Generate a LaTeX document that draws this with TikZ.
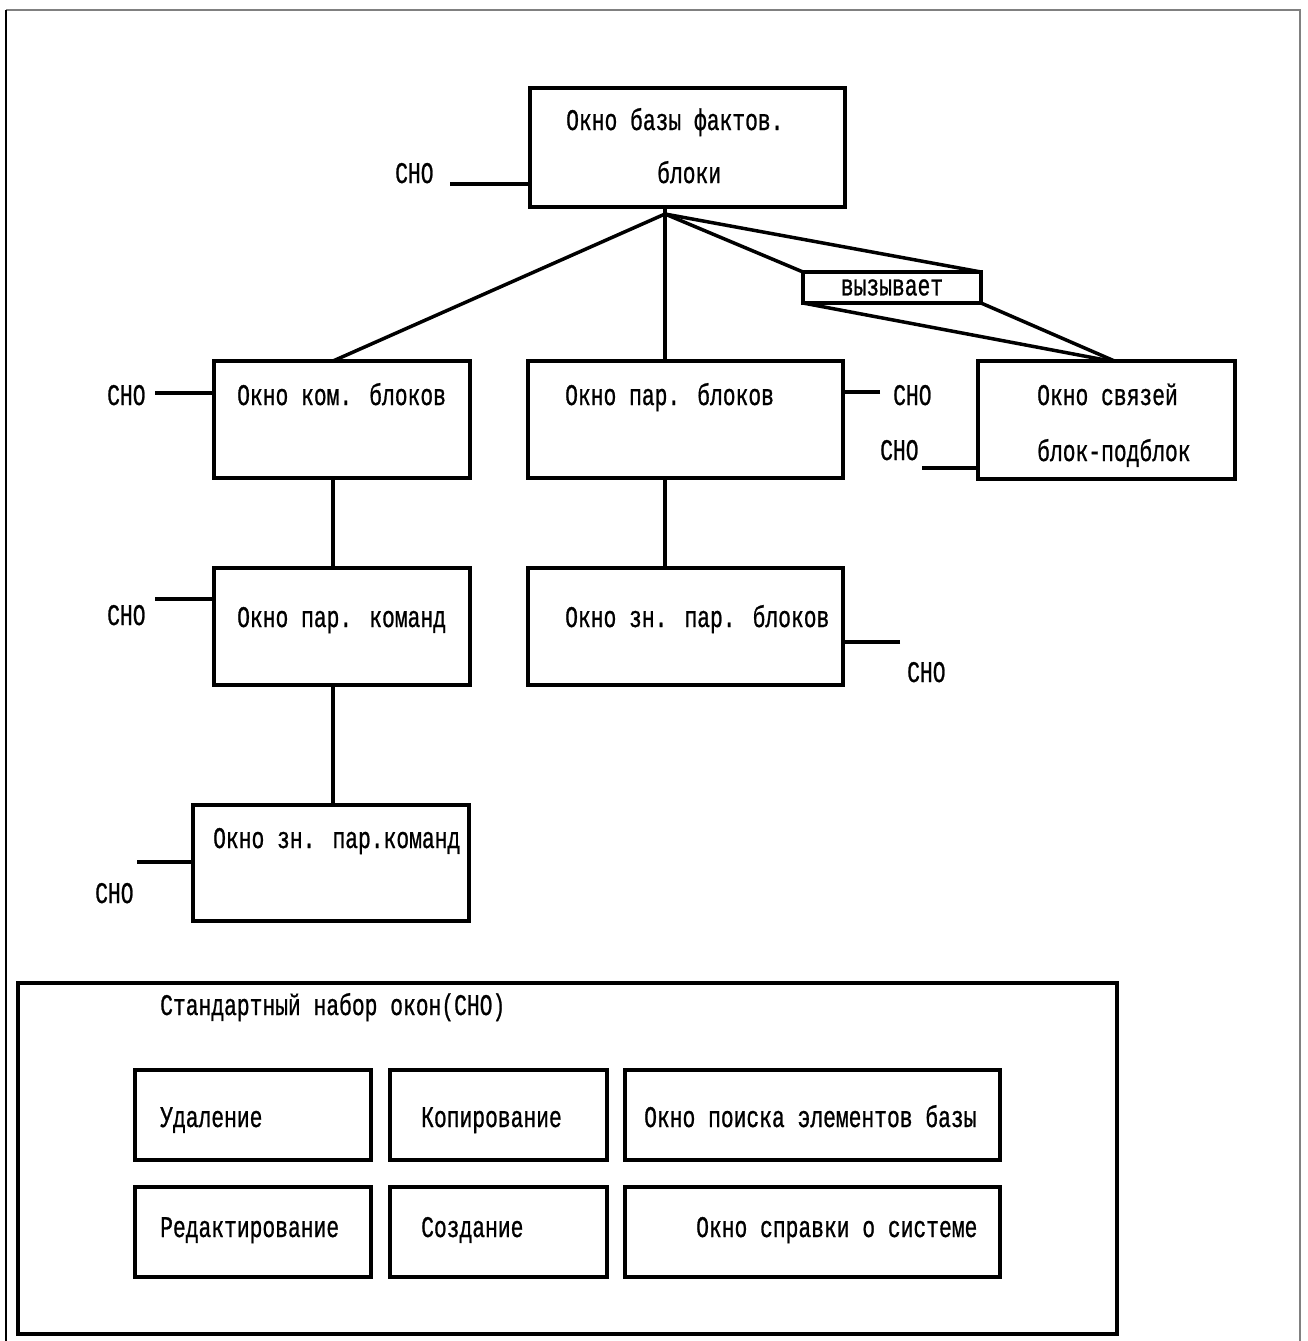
\documentclass[tikz,border=0pt]{standalone}
\usepackage{fontspec}
\setmainfont[FakeStretch=0.71,FakeBold=0.8]{Liberation Mono}
\usetikzlibrary{calc}

\begin{document}
\begin{tikzpicture}
[x=1pt,y=-1pt,
  boxdecorate/.style={shape=rectangle,draw,line width=3.5pt,inner sep=0pt,outer sep=0pt,anchor=north west},%
  linedecorate/.style={-,line width=3.5pt},%
  textdecorate/.style={anchor=base west,inner sep=0pt,font=\fontsize{30}{36}\selectfont}]
\useasboundingbox (0,0) rectangle (1307,1341);
%% page frame
\draw[line width=2pt,gray] (6,10) -- (1300,10) -- (1300,1341);
\draw[line width=2pt] (6,10) -- (6,1341);
%% windows
\foreach \nodename/\x/\y/\w/\h in {top/530/88/315/119, kom/214/361/256/117,
  parblk/528/361/315/117, svz/978/361/257/118, parkom/214/568/256/117,
  znblk/528/568/315/117, znkom/193/805/276/116, sno/18/983/1099/351,
  del/135/1070/236/90, copy/390/1070/217/90, search/625/1070/375/90,
  edit/135/1187/236/90, create/390/1187/217/90, help/625/1187/375/90} {
  \node (\nodename) at (\x,\y) [boxdecorate,minimum width=\w pt,minimum height=\h pt] {};
}
\node (call) at (803,272) [boxdecorate,minimum width=178pt,minimum height=31pt,
  font=\fontsize{30}{36}\selectfont] {вызывает};
%% window titles
\foreach \nodename/\x/\y/\txt in {t1/566/130/Окно базы фактов., t2/657/183/блоки,
  t3/237/405/Окно ком. блоков, t4/565/405/Окно пар. блоков, t5/1037/405/Окно связей,
  t6/1037/461/блок-подблок, t7/237/627/Окно пар. команд, t8/565/627/Окно зн. пар. блоков,
  t9/213/848/Окно зн. пар.команд, t10/160/1015/Стандартный набор окон(СНО),
  t11/160/1127/Удаление, t12/421/1127/Копирование, t13/644/1127/Окно поиска элементов базы,
  t14/160/1237/Редактирование, t15/421/1237/Создание, t16/696/1237/Окно справки о системе} {
  \node (\nodename) at (\x,\y) [textdecorate] {\txt};
}
%% standard window set marks
\foreach \nodename/\x/\y in {c1/395/183, c2/107/405, c3/893/405, c4/880/460,
  c5/107/625, c6/907/682, c7/95/903} {
  \node (\nodename) at (\x,\y) [textdecorate] {СНО};
}
\foreach \nodename/\x/\y in {s1/450/184, s2/155/393, s3/880/392, s4/922/468,
  s5/155/599, s6/900/642, s7/137/862} {
  \coordinate (\nodename) at (\x,\y);
}
\foreach \startnode/\endnode in {s1/top.west, s2/kom.west, s3/parblk.east, s4/svz.west,
  s5/parkom.west, s6/znblk.east, s7/znkom.west} {
  \draw[linedecorate] (\startnode) -- (\startnode -| \endnode);
}
%% tree lines
\coordinate (apex) at (665,214);
\draw[linedecorate] (apex |- top.south) -- (apex);
\draw[linedecorate] (apex) -- ([xshift=-9pt]kom.north);
\draw[linedecorate] (apex) -- (apex |- parblk.north);
\draw[linedecorate] (apex) -- (call.north west);
\draw[linedecorate] (apex) -- (call.north east);
\draw[linedecorate] (call.south west) -- ([xshift=4pt]svz.north);
\draw[linedecorate] (call.south east) -- ([xshift=8pt]svz.north);
\draw[linedecorate] ([xshift=-9pt]kom.south) -- ([xshift=-9pt]parkom.north);
\draw[linedecorate] (apex |- parblk.south) -- (apex |- znblk.north);
\draw[linedecorate] ([xshift=-9pt]parkom.south) -- ([xshift=-9pt]parkom.south |- znkom.north);
\end{tikzpicture}
\end{document}
